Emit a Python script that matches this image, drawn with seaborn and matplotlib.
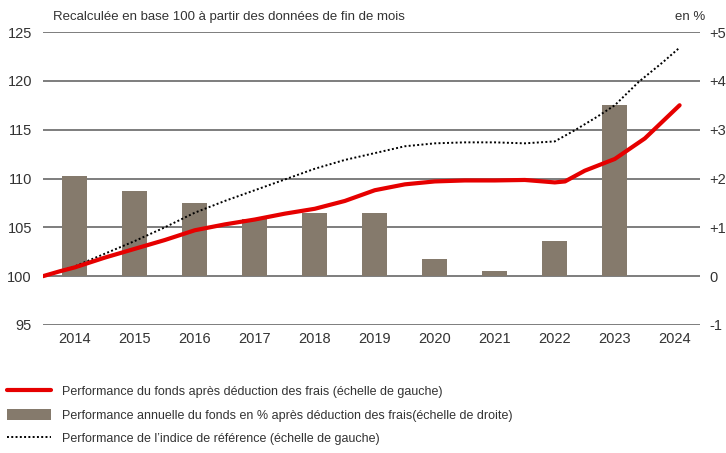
import matplotlib
matplotlib.use("Agg")
import matplotlib.pyplot as plt
from matplotlib.lines import Line2D
from matplotlib.patches import Patch
import seaborn as sns

# annual fund performance in % (right scale)
bar_years = [2014, 2015, 2016, 2017, 2018, 2019, 2020, 2021, 2022, 2023]
bar_values = [2.06, 1.74, 1.50, 1.18, 1.29, 1.29, 0.35, 0.10, 0.72, 3.50]

# fund indexed to 100 (left scale), x in years
fund_x = [2013.47, 2013.75, 2014.0, 2014.5, 2015.0, 2015.5, 2016.0, 2016.5, 2017.0,
          2017.5, 2018.0, 2018.5, 2019.0, 2019.5, 2020.0, 2020.5, 2021.0, 2021.5,
          2022.0, 2022.17, 2022.5, 2023.0, 2023.5, 2024.08]
fund_y = [100.0, 100.5, 100.9, 101.9, 102.8, 103.7, 104.7, 105.3, 105.8,
          106.4, 106.9, 107.7, 108.8, 109.4, 109.7, 109.8, 109.8, 109.85,
          109.6, 109.7, 110.8, 112.0, 114.1, 117.5]

# benchmark indexed to 100 (left scale)
bench_x = [2013.47, 2014.0, 2014.5, 2015.0, 2015.5, 2016.0, 2016.5, 2017.0, 2017.5,
           2018.0, 2018.5, 2019.0, 2019.5, 2020.0, 2020.5, 2021.0, 2021.5, 2022.0,
           2022.35, 2022.7, 2023.0, 2023.4, 2023.8, 2024.08]
bench_y = [100.0, 101.0, 102.3, 103.6, 105.0, 106.5, 107.7, 108.8, 109.9,
           111.0, 111.9, 112.6, 113.3, 113.6, 113.7, 113.7, 113.6, 113.8,
           115.0, 116.3, 117.5, 119.9, 121.9, 123.4]

left_ticks = [95, 100, 105, 110, 115, 120, 125]
right_ticks = [-1, 0, 1, 2, 3, 4, 5]
right_labels = ["-1", "0", "+1", "+2", "+3", "+4", "+5"]
xtick_years = list(range(2014, 2025))

RED = "#e60000"
BROWN = "#857a6c"
GRID = "#5a5a5a"
TEXT = "#333333"

sns.set_style("white")
plt.rcParams["font.family"] = ["Liberation Sans", "DejaVu Sans"]
plt.rcParams["text.color"] = TEXT

fig = plt.figure(figsize=(7.26, 4.53), dpi=100)
ax = fig.add_axes([43 / 726, 1 - 325 / 453, (700 - 43) / 726, (325 - 32) / 453])
ax2 = ax.twinx()

# bars on the right axis, lines on the left axis drawn on top
sns.barplot(x=bar_years, y=bar_values, native_scale=True, width=0.42,
            color=BROWN, saturation=1, linewidth=0, ax=ax2, zorder=2)
sns.lineplot(x=bench_x, y=bench_y, ax=ax, color="black", linewidth=1.4,
             linestyle=(0, (1, 1.2)), sort=False)
sns.lineplot(x=fund_x, y=fund_y, ax=ax, color=RED, linewidth=3.0, sort=False)

ax.set_zorder(ax2.get_zorder() + 1)
ax.patch.set_visible(False)

for a in (ax, ax2):
    a.set_xlim(2013.47, 2024.42)
    for s in a.spines.values():
        s.set_visible(False)
    a.set_xlabel("")
    a.set_ylabel("")

ax.set_ylim(95, 125)
ax.set_yticks(left_ticks)
ax2.set_ylim(-1, 5)
ax2.set_yticks(right_ticks)
ax2.set_yticklabels(right_labels)
ax2.set_axisbelow(True)
ax2.yaxis.grid(True, color=GRID, linewidth=1.1)
ax.set_xticks(xtick_years)
ax.set_xticklabels([str(y) for y in xtick_years])
ax2.tick_params(axis="x", bottom=False, labelbottom=False)

ax.tick_params(axis="both", length=0, labelsize=10.5, labelcolor=TEXT)
ax.tick_params(axis="y", pad=8)
ax.tick_params(axis="x", pad=5)
ax2.tick_params(axis="y", length=0, labelsize=10.5, labelcolor=TEXT, pad=7)

fig.text(53 / 726, 1 - 17 / 453, "Recalculée en base 100 à partir des données de fin de mois",
         fontsize=9.5, va="center", ha="left")
fig.text(705 / 726, 1 - 17 / 453, "en %", fontsize=9.5, va="center", ha="right")

handles = [
    Line2D([0], [0], color=RED, linewidth=3.0),
    Patch(facecolor=BROWN, edgecolor="none"),
    Line2D([0], [0], color="black", linewidth=1.4, linestyle=(0, (1, 1.2))),
]
labels = [
    "Performance du fonds après déduction des frais (échelle de gauche)",
    "Performance annuelle du fonds en % après déduction des frais(échelle de droite)",
    "Performance de l\u2019indice de référence (échelle de gauche)",
]
fig.legend(handles, labels, loc="upper left", bbox_to_anchor=(7 / 726, 1 - 385 / 453),
           frameon=False, fontsize=9,
           handlelength=3.5, handleheight=1.0,
           handletextpad=0.9, labelspacing=0.86, borderpad=0, borderaxespad=0)

fig.savefig("out.png", dpi=100)
